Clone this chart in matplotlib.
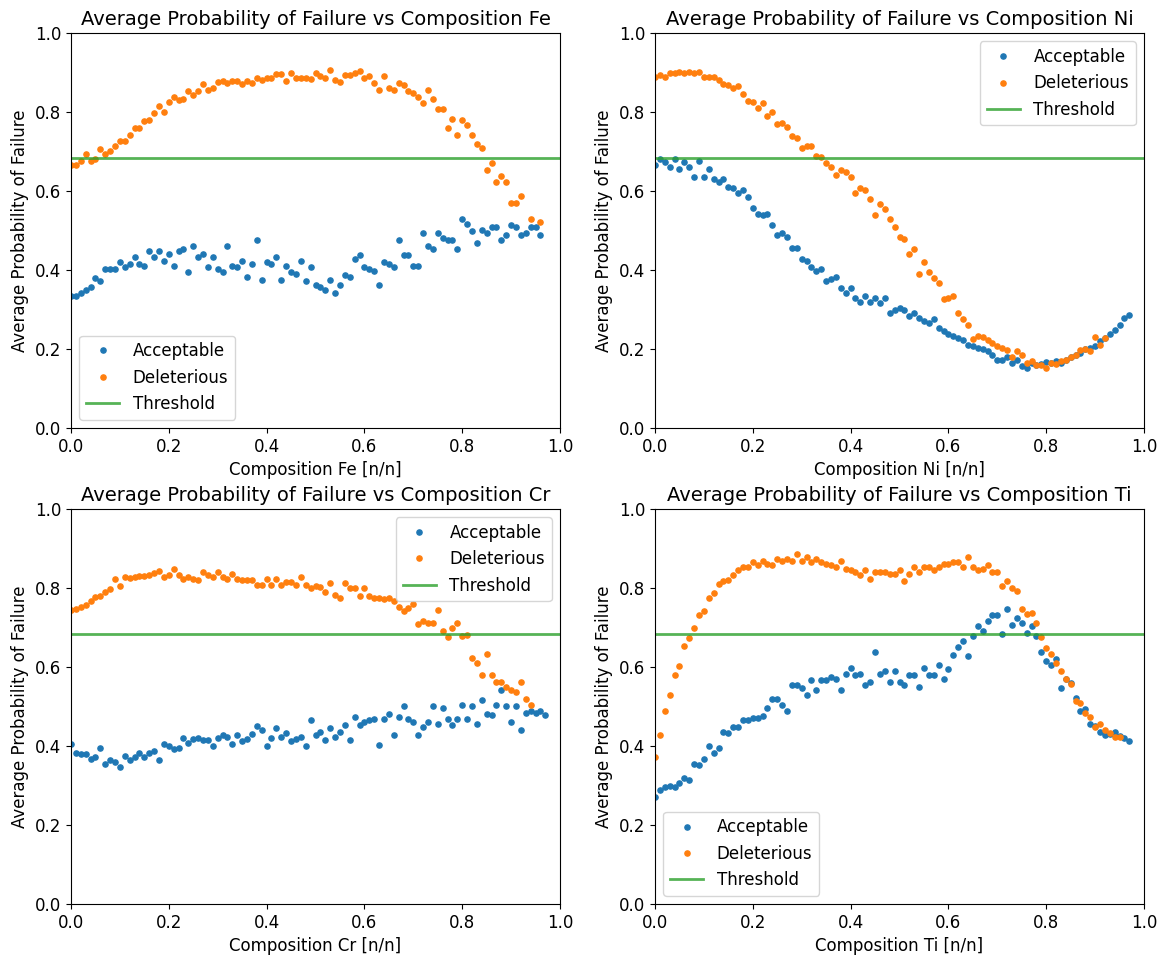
import numpy as np
import matplotlib.pyplot as plt

nan = np.nan

threshold = 0.684
elements = ["Fe", "Ni", "Cr", "Ti"]
legend_locs = ["lower left", "upper right", "upper right", "lower left"]

# average probability of failure per composition bin (0.01 steps)
fe_acceptable = [
    0.334, 0.334, 0.341, 0.349, 0.357, 0.380, 0.371, 0.403, 0.403, 0.403,
    0.420, 0.407, 0.415, 0.432, 0.415, 0.411, 0.448, 0.432, 0.448, 0.424,
    0.441, 0.411, 0.448, 0.452, 0.396, 0.460, 0.432, 0.441, 0.407, 0.432,
    0.403, 0.396, 0.460, 0.411, 0.407, 0.424, 0.383, 0.415, 0.477, 0.375,
    0.420, 0.415, 0.432, 0.375, 0.411, 0.396, 0.391, 0.424, 0.371, 0.407,
    0.363, 0.358, 0.350, 0.375, 0.341, 0.363, 0.387, 0.383, 0.428, 0.437,
    0.407, 0.403, 0.398, 0.363, 0.420, 0.415, 0.407, 0.477, 0.437, 0.437,
    0.411, 0.411, 0.494, 0.460, 0.452, 0.494, 0.481, 0.477, 0.477, 0.452,
    0.530, 0.517, 0.498, 0.469, 0.502, 0.494, 0.509, 0.509, 0.477, 0.489,
    0.515, 0.509, 0.489, 0.494, 0.509, 0.509, 0.489,
]
fe_deleterious = [
    0.665, 0.665, 0.677, 0.694, 0.677, 0.682, 0.706, 0.694, 0.702, 0.715,
    0.727, 0.727, 0.743, 0.760, 0.760, 0.777, 0.781, 0.797, 0.814, 0.800,
    0.826, 0.838, 0.830, 0.834, 0.854, 0.843, 0.854, 0.871, 0.856, 0.862,
    0.875, 0.878, 0.874, 0.878, 0.878, 0.870, 0.878, 0.874, 0.887, 0.882,
    0.887, 0.887, 0.895, 0.895, 0.878, 0.900, 0.887, 0.887, 0.887, 0.883,
    0.900, 0.890, 0.886, 0.906, 0.882, 0.877, 0.894, 0.894, 0.899, 0.903,
    0.886, 0.890, 0.873, 0.856, 0.890, 0.860, 0.856, 0.873, 0.869, 0.852,
    0.848, 0.839, 0.824, 0.856, 0.832, 0.807, 0.807, 0.760, 0.783, 0.743,
    0.780, 0.767, 0.743, 0.718, 0.710, 0.654, 0.672, 0.624, 0.637, 0.624,
    0.570, 0.570, 0.587, nan, 0.530, nan, 0.522,
]

ni_acceptable = [
    0.665, 0.682, 0.673, 0.660, 0.682, 0.656, 0.673, 0.660, 0.636, 0.677,
    0.636, 0.656, 0.631, 0.623, 0.631, 0.611, 0.607, 0.594, 0.603, 0.586,
    0.557, 0.543, 0.538, 0.543, 0.513, 0.488, 0.494, 0.483, 0.456, 0.456,
    0.428, 0.424, 0.407, 0.398, 0.403, 0.371, 0.376, 0.383, 0.354, 0.341,
    0.354, 0.329, 0.320, 0.333, 0.320, 0.329, 0.316, 0.329, 0.291, 0.300,
    0.304, 0.300, 0.283, 0.292, 0.279, 0.271, 0.266, 0.275, 0.254, 0.245,
    0.237, 0.232, 0.228, 0.224, 0.211, 0.207, 0.203, 0.199, 0.194, 0.186,
    0.173, 0.173, 0.181, 0.164, 0.173, 0.156, 0.153, 0.164, 0.160, 0.162,
    0.167, 0.164, 0.169, 0.164, 0.173, 0.181, 0.186, 0.190, 0.199, 0.203,
    0.207, 0.220, 0.228, 0.238, 0.249, 0.262, 0.279, 0.286,
]
ni_deleterious = [
    0.889, 0.894, 0.889, 0.898, 0.898, 0.902, 0.898, 0.902, 0.898, 0.902,
    0.889, 0.889, 0.889, 0.881, 0.872, 0.868, 0.860, 0.866, 0.845, 0.828,
    0.826, 0.811, 0.824, 0.791, 0.800, 0.769, 0.773, 0.762, 0.739, 0.734,
    0.709, 0.713, 0.713, 0.689, 0.685, 0.672, 0.660, 0.640, 0.652, 0.649,
    0.636, 0.594, 0.607, 0.603, 0.579, 0.538, 0.567, 0.554, 0.529, 0.509,
    0.483, 0.479, 0.441, 0.454, 0.390, 0.420, 0.394, 0.380, 0.366, 0.326,
    0.330, 0.333, 0.292, 0.277, 0.260, 0.226, 0.232, 0.231, 0.224, 0.215,
    0.207, 0.203, 0.198, 0.181, 0.196, 0.186, 0.164, 0.170, 0.160, 0.160,
    0.153, 0.164, 0.162, 0.170, 0.173, 0.179, 0.186, 0.198, 0.201, 0.196,
    0.230, 0.211, 0.228,
]

cr_acceptable = [
    0.404, 0.383, 0.379, 0.379, 0.366, 0.371, 0.396, 0.354, 0.364, 0.360,
    0.347, 0.375, 0.364, 0.372, 0.383, 0.371, 0.383, 0.387, 0.364, 0.404,
    0.400, 0.392, 0.396, 0.419, 0.408, 0.417, 0.419, 0.414, 0.414, 0.400,
    0.419, 0.429, 0.424, 0.404, 0.429, 0.413, 0.417, 0.431, 0.451, 0.440,
    0.400, 0.419, 0.445, 0.424, 0.434, 0.413, 0.417, 0.424, 0.400, 0.465,
    0.429, 0.436, 0.415, 0.445, 0.424, 0.436, 0.452, 0.415, 0.473, 0.452,
    0.461, 0.465, 0.469, 0.403, 0.469, 0.482, 0.428, 0.473, 0.501, 0.469,
    0.461, 0.428, 0.449, 0.461, 0.501, 0.456, 0.497, 0.469, 0.452, 0.469,
    0.505, 0.469, 0.501, 0.456, 0.516, 0.482, 0.478, 0.505, 0.542, 0.501,
    0.461, 0.501, 0.440, 0.484, 0.488, 0.484, 0.488, 0.478,
]
cr_deleterious = [
    0.744, 0.748, 0.752, 0.756, 0.768, 0.777, 0.781, 0.789, 0.798, 0.824,
    0.804, 0.828, 0.825, 0.828, 0.830, 0.831, 0.834, 0.838, 0.844, 0.828,
    0.832, 0.848, 0.832, 0.824, 0.828, 0.824, 0.820, 0.840, 0.832, 0.828,
    0.840, 0.828, 0.824, 0.836, 0.824, 0.820, 0.820, 0.820, 0.807, 0.807,
    0.824, 0.807, 0.824, 0.807, 0.815, 0.815, 0.807, 0.828, 0.807, 0.800,
    0.804, 0.803, 0.789, 0.813, 0.782, 0.775, 0.813, 0.800, 0.800, 0.781,
    0.800, 0.779, 0.775, 0.775, 0.771, 0.775, 0.766, 0.751, 0.741, 0.750,
    0.760, 0.710, 0.716, 0.712, 0.712, 0.744, 0.692, 0.675, 0.699, 0.712,
    0.678, 0.682, 0.623, 0.611, 0.579, 0.634, 0.581, 0.562, 0.562, 0.550,
    0.542, 0.537, 0.562, 0.520, 0.505,
]

ti_acceptable = [
    0.272, 0.288, 0.296, 0.299, 0.295, 0.306, 0.318, 0.314, 0.355, 0.351,
    0.366, 0.400, 0.383, 0.396, 0.436, 0.432, 0.449, 0.449, 0.465, 0.467,
    0.472, 0.472, 0.476, 0.497, 0.518, 0.518, 0.505, 0.488, 0.554, 0.554,
    0.546, 0.529, 0.566, 0.542, 0.566, 0.566, 0.574, 0.570, 0.542, 0.583,
    0.598, 0.579, 0.583, 0.554, 0.562, 0.638, 0.583, 0.591, 0.562, 0.591,
    0.562, 0.554, 0.579, 0.579, 0.550, 0.598, 0.579, 0.579, 0.606, 0.570,
    0.595, 0.631, 0.650, 0.667, 0.627, 0.679, 0.703, 0.692, 0.716, 0.731,
    0.731, 0.683, 0.748, 0.707, 0.724, 0.712, 0.686, 0.703, 0.679, 0.638,
    0.615, 0.606, 0.619, 0.546, 0.570, 0.560, 0.522, 0.488, 0.493, 0.456,
    0.451, 0.436, 0.428, 0.430, 0.436, 0.425, 0.420, 0.413,
]
ti_deleterious = [
    0.371, 0.428, 0.488, 0.529, 0.581, 0.602, 0.654, 0.674, 0.699, 0.731,
    0.743, 0.775, 0.788, 0.809, 0.817, 0.821, 0.832, 0.845, 0.853, 0.853,
    0.865, 0.857, 0.869, 0.862, 0.857, 0.874, 0.869, 0.874, 0.869, 0.886,
    0.869, 0.878, 0.865, 0.873, 0.866, 0.862, 0.857, 0.853, 0.869, 0.849,
    0.845, 0.841, 0.832, 0.845, 0.824, 0.841, 0.841, 0.841, 0.836, 0.836,
    0.845, 0.817, 0.836, 0.853, 0.841, 0.853, 0.853, 0.845, 0.853, 0.861,
    0.861, 0.865, 0.865, 0.853, 0.878, 0.853, 0.845, 0.849, 0.857, 0.841,
    0.841, 0.804, 0.817, 0.800, 0.792, 0.748, 0.733, 0.736, 0.712, 0.676,
    0.647, 0.634, 0.609, 0.590, 0.570, 0.558, 0.514, 0.510, 0.484, 0.473,
    0.448, 0.456, 0.440, 0.434, 0.423, 0.423,
]

acceptable = [fe_acceptable, ni_acceptable, cr_acceptable, ti_acceptable]
deleterious = [fe_deleterious, ni_deleterious, cr_deleterious, ti_deleterious]

plt.rcParams["font.size"] = 12

fig = plt.figure(figsize=(11.59, 9.58), dpi=100)
lefts = [71 / 1159, 655 / 1159]
bottoms = [1 - 428 / 958, 1 - 904 / 958]
width, height = 489 / 1159, 395 / 958

for k, element in enumerate(elements):
    row, col = divmod(k, 2)
    ax = fig.add_axes([lefts[col], bottoms[row], width, height])
    acc = np.array(acceptable[k])
    dele = np.array(deleterious[k])
    ax.plot(np.arange(len(acc)) * 0.01, acc, ".", markersize=7.5, label="Acceptable")
    ax.plot(np.arange(len(dele)) * 0.01, dele, ".", markersize=7.5, label="Deleterious")
    ax.axhline(threshold, color="tab:green", alpha=0.8, linewidth=2, label="Threshold")
    ax.set_xlim(0, 1)
    ax.set_ylim(0, 1)
    ax.set_title(f"Average Probability of Failure vs Composition {element}", fontsize=14)
    ax.set_xlabel(f"Composition {element} [n/n]")
    ax.set_ylabel("Average Probability of Failure")
    ax.legend(loc=legend_locs[k])

fig.savefig("out.png", dpi=100)
